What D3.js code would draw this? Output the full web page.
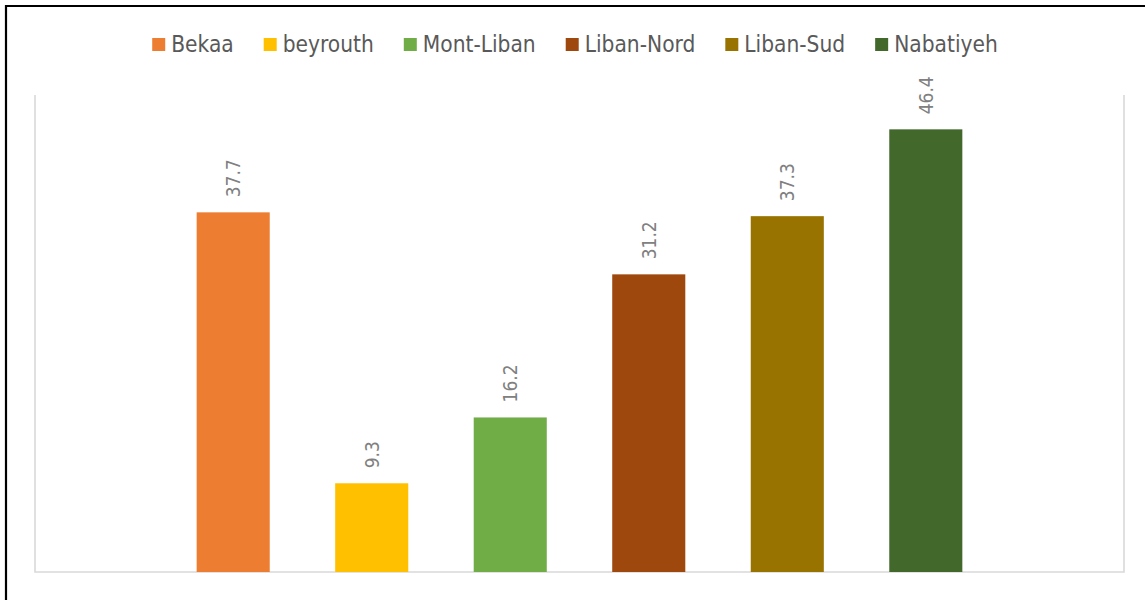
<!DOCTYPE html>
<html>
<head>
<meta charset="utf-8">
<script src="https://cdn.jsdelivr.net/npm/d3@7"></script>
<style>
    html, body { margin: 0; padding: 0; background: #fff; }
    svg { display: block; }
</style>
</head>
<body>
<div id="chart"></div>
<script>
// series (one category, six regions)
const regions = ['Bekaa', 'beyrouth', 'Mont-Liban', 'Liban-Nord', 'Liban-Sud', 'Nabatiyeh'];
const values = [37.7, 9.3, 16.2, 31.2, 37.3, 46.4];
const colors = ['#ED7D31', '#FFC000', '#70AD47', '#9E480E', '#997300', '#43682B'];

const width = 1145, height = 600;
const plot = { left: 35, right: 1124, top: 95, bottom: 572 };

const svg = d3.select('#chart')
    .append('svg')
    .attr('width', width)
    .attr('height', height);

// outer black frame (only left and top edges fall inside the picture)
svg.append('path')
    .attr('d', `M 6,${height + 5} L 6,6 L ${width + 5},6`)
    .style('fill', 'none')
    .style('stroke', '#000')
    .style('stroke-width', 2.2);

// scales
const x = d3.scaleBand()
    .domain(regions)
    .range([plot.left, plot.right])
    .paddingInner(0.4725)
    .paddingOuter(1.167);

const y = d3.scaleLinear()
    .domain([0, 50])
    .range([plot.bottom, plot.top]);

// plot frame: left, right and bottom light grey lines
svg.append('path')
    .attr('d', `M ${plot.left},${plot.top} L ${plot.left},${plot.bottom} L ${plot.right},${plot.bottom} L ${plot.right},${plot.top}`)
    .style('fill', 'none')
    .style('stroke', '#d9d9d9')
    .style('stroke-width', 1.6);

// bars
svg.append('g')
    .selectAll('rect')
    .data(regions)
    .enter()
    .append('rect')
    .attr('x', d => x(d))
    .attr('width', x.bandwidth())
    .attr('y', (d, i) => y(values[i]))
    .attr('height', (d, i) => y(0) - y(values[i]))
    .style('fill', (d, i) => colors[i]);

// rotated value labels above bars
svg.append('g')
    .selectAll('text')
    .data(regions)
    .enter()
    .append('text')
    .attr('transform', (d, i) => `translate(${x(d) + x.bandwidth() / 2},${y(values[i]) - 15}) rotate(-90)`)
    .attr('dy', '0.36em')
    .attr('text-anchor', 'start')
    .style('font', '19px "DejaVu Sans Condensed", "DejaVu Sans", sans-serif')
    .style('fill', '#808080')
    .text((d, i) => values[i].toFixed(1));

// legend, laid out from measured text widths and centred
const legend = svg.append('g');
const items = legend.selectAll('g')
    .data(regions)
    .enter()
    .append('g');

items.append('rect')
    .attr('width', 13)
    .attr('height', 13)
    .attr('y', 38)
    .style('fill', (d, i) => colors[i]);

items.append('text')
    .attr('x', 19)
    .attr('y', 52)
    .style('font', '22.5px "DejaVu Sans Condensed", "DejaVu Sans", sans-serif')
    .style('fill', '#595959')
    .text(d => d);

let offset = 0;
const offsets = [];
items.each(function () {
    offsets.push(offset);
    const w = d3.select(this).select('text').node().getComputedTextLength();
    offset += 19 + w + 30;
});
const total = offset - 30;
const start = 575 - total / 2;
items.attr('transform', (d, i) => `translate(${start + offsets[i]},0)`);
</script>
</body>
</html>
